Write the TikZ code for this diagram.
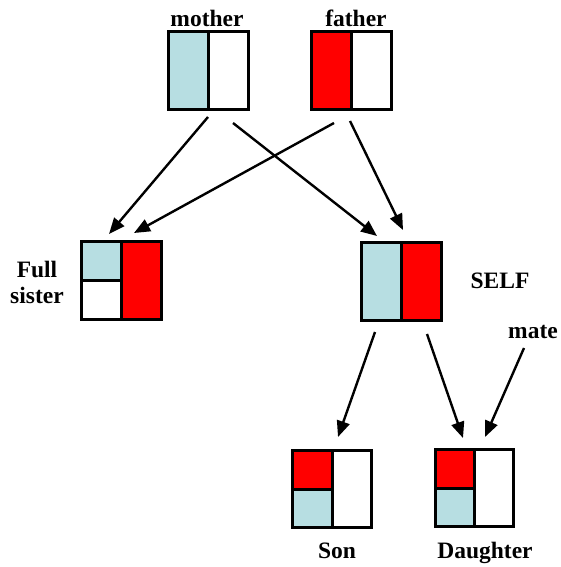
\documentclass[tikz,border=0pt]{standalone}
\usepackage{fontspec}
\setmainfont{Liberation Serif}
\usetikzlibrary{arrows.meta,calc}
\definecolor{lb}{HTML}{B7DEE2}
\definecolor{rd}{HTML}{FF0000}
\begin{document}
\begin{tikzpicture}[x=1pt,y=-1pt,
  lbl/.style={inner sep=0pt,anchor=base,font=\fontsize{23.5}{27}\selectfont\bfseries},
  box/.style={rectangle,minimum width=77pt,minimum height=75pt,inner sep=0pt,line width=3pt},
  arr/.style={line width=2.4pt,-{Triangle[length=16pt,width=13pt]}},
  divider/.style={line width=3pt}]
\useasboundingbox (0,0) rectangle (560,567);
% boxes
\node[box] (mom) at (208.5,70.5) {};
\node[box] (dad) at (351.5,71) {};
\node[box] (sis) at (121.5,280.5) {};
\node[box] (self) at (401.5,281.5) {};
\node[box,minimum width=76pt,minimum height=74pt] (son) at (332,489) {};
\node[box,minimum width=75pt,minimum height=74pt] (dau) at (474.5,488) {};
% fills
\fill[lb] (mom.north west) rectangle (mom.south);
\fill[rd] (dad.north west) rectangle (dad.south);
\fill[lb] (sis.north west) rectangle (sis.center);
\fill[rd] (sis.north) rectangle (sis.south east);
\fill[lb] (self.north west) rectangle (self.south);
\fill[rd] (self.north) rectangle (self.south east);
\fill[rd] (son.north west) rectangle (son.center);
\fill[lb] (son.west) rectangle (son.south);
\fill[rd] (dau.north west) rectangle (dau.center);
\fill[lb] (dau.west) rectangle (dau.south);
% borders and dividers
\foreach \b in {mom,dad,sis,self,son,dau}{
  \draw[line width=3pt] (\b.north west) rectangle (\b.south east);
  \draw[divider] (\b.north) -- (\b.south);
}
\draw[divider] (sis.west) -- (sis.center);
\draw[divider] (son.west) -- (son.center);
\draw[divider] (dau.west) -- (dau.center);
% labels
\node[lbl] (lmom) at (207,27) {mother};
\node[lbl] (ldad) at (356,27) {father};
\node[lbl] (lfull) at (37,277) {Full};
\node[lbl] (lsis) at (37,303) {sister};
\node[lbl] (lself) at (500,288) {SELF};
\node[lbl] (lmate) at (533,338) {mate};
\node[lbl] (lson) at (337,558) {Son};
\node[lbl] (ldau) at (485,558) {Daughter};
% arrow endpoints
\coordinate (m1) at (208,117);
\coordinate (m2) at (233,123);
\coordinate (f1) at (334,123);
\coordinate (f2) at (350,121);
\coordinate (s1) at (109,234);
\coordinate (s2) at (134,233);
\coordinate (e1) at (377,236);
\coordinate (e2) at (403,230);
\coordinate (o1) at (375,332);
\coordinate (o2) at (427,334);
\coordinate (sonT) at (338,437);
\coordinate (dauT) at (463,438);
\coordinate (mateS) at (524,348);
\coordinate (mateT) at (485,437);
\draw[arr] (m1) -- (s1);
\draw[arr] (m2) -- (e1);
\draw[arr] (f1) -- (s2);
\draw[arr] (f2) -- (e2);
\draw[arr] (o1) -- (sonT);
\draw[arr] (o2) -- (dauT);
\draw[arr] (mateS) -- (mateT);
\end{tikzpicture}
\end{document}
